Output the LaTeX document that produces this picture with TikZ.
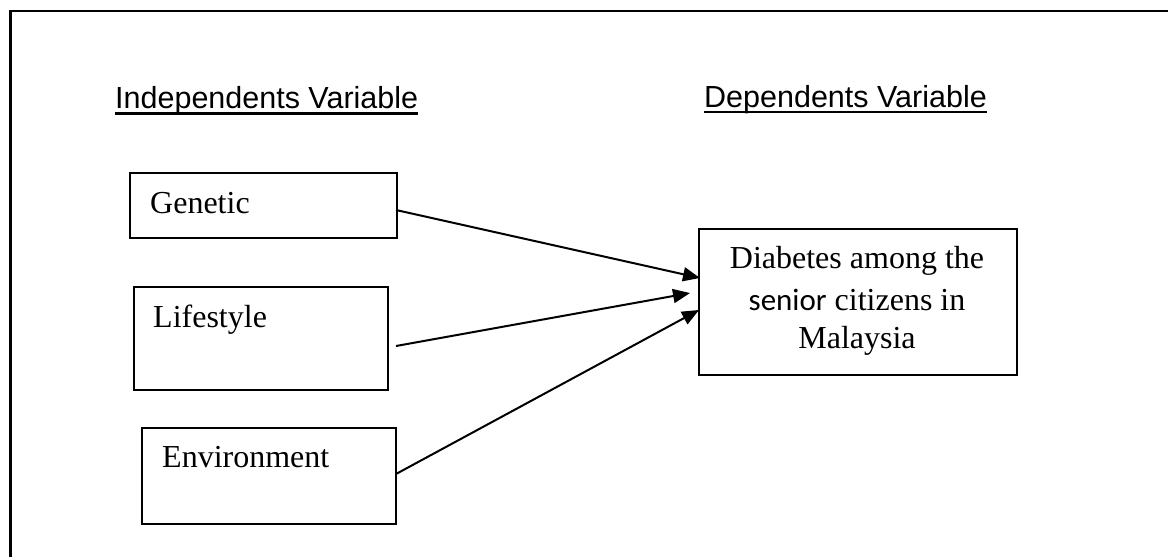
\documentclass[tikz,border=0pt]{standalone}
\usepackage{fontspec}
\setmainfont{Liberation Serif}
\setsansfont{Liberation Sans}
\newfontfamily\calfont{Carlito}
\usetikzlibrary{arrows.meta}
\begin{document}
\begin{tikzpicture}[x=1pt,y=-1pt,
  boxstyle/.style={draw,line width=1.8pt,inner sep=0pt,anchor=north west},
  headstyle/.style={inner sep=0pt,anchor=base west,font=\sffamily\fontsize{30.5}{36}\selectfont},
  labelstyle/.style={inner sep=0pt,anchor=base west,font=\fontsize{32}{38}\selectfont},
  dstyle/.style={inner sep=0pt,anchor=base,font=\fontsize{32}{38}\selectfont},
  arr/.style={line width=2pt,-{Triangle[length=17pt,width=14pt]}}]
\useasboundingbox (0,0) rectangle (1168,557);
% frame
\draw[line width=2.8pt] (10.5,560) -- (10.5,11) -- (1170,11);
% headings
\node[headstyle] (ind) at (115,108) {Independents Variable};
\node[headstyle] (dep) at (704,107) {Dependents Variable};
\draw[line width=2.2pt] ([yshift=-5.5pt]ind.base west) -- ([yshift=-5.5pt]ind.base east);
\draw[line width=2.2pt] ([yshift=-5pt]dep.base west) -- ([yshift=-5pt]dep.base east);
% boxes
\node[boxstyle,minimum width=267pt,minimum height=65pt] (gen) at (129,172) {};
\node[boxstyle,minimum width=254pt,minimum height=103pt] (life) at (133,286) {};
\node[boxstyle,minimum width=254pt,minimum height=96pt] (env) at (141,427) {};
\node[boxstyle,minimum width=318pt,minimum height=146pt] (dia) at (698,228) {};
\node[labelstyle] (gent) at (150,213) {Genetic};
\node[labelstyle] (lifet) at (153,327) {Lifestyle};
\node[labelstyle] (envt) at (162,467) {Environment};
\node[dstyle] (d1) at (857,268) {Diabetes among the};
\node[dstyle] (d2) at (857,310) {{\calfont\fontsize{31}{38}\selectfont senior} citizens in};
\node[dstyle] (d3) at (857,348) {Malaysia};
% arrow ends
\coordinate (g0) at (396,210);
\coordinate (l0) at (396,346);
\coordinate (e0) at (396,474);
\coordinate (g1) at (700,278);
\coordinate (l1) at (690,293);
\coordinate (e1) at (699,310);
\draw[arr] (g0) -- (g1);
\draw[arr] (l0) -- (l1);
\draw[arr] (e0) -- (e1);
\end{tikzpicture}
\end{document}
